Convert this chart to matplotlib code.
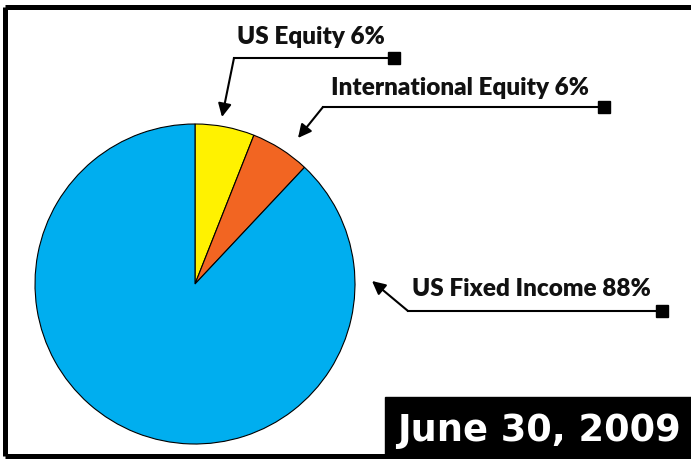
import matplotlib
matplotlib.use("Agg")
from matplotlib import pyplot as plt
from matplotlib.patches import Rectangle

# allocation data
labels = ["US Equity", "International Equity", "US Fixed Income"]
shares = [6, 6, 88]
colors = ["#FFF200", "#F26522", "#00AEEF"]
date_text = "June 30, 2009"

H = 460  # figure height in px, used to flip y (positions read top-down)

fig = plt.figure(figsize=(6.91, 4.60), dpi=100)
ax = fig.add_axes([0, 0, 1, 1])

ax.pie(shares, colors=colors, startangle=90, counterclock=False,
       center=(195, H - 285), radius=160,
       wedgeprops=dict(edgecolor="black", linewidth=0.8))

ax.set_xlim(0, 691)
ax.set_ylim(0, H)
ax.set_aspect("equal")
ax.axis("off")

# callouts: text position, square end, elbow, arrow tip (pixel coords, y down)
callouts = [
    ((311, 37), (394, 59), (234, 59), (222, 118)),
    ((460, 88), (604, 108), (323, 108), (298, 139)),
    ((531, 289), (662, 312), (408, 312), (372, 282)),
]
for (lab, val), (txt, sq, elbow, tip) in zip(zip(labels, shares), callouts):
    ax.text(txt[0], H - txt[1], f"{lab} {val}%", fontsize=17.5, fontweight="heavy",
            family="Lato", ha="center", va="center", color="#111111")
    ax.plot([sq[0], elbow[0]], [H - sq[1], H - elbow[1]], color="black", lw=1.5)
    ax.plot(sq[0], H - sq[1], marker="s", ms=8.5, color="black")
    ax.annotate("", xy=(tip[0], H - tip[1]), xytext=(elbow[0], H - elbow[1]),
                arrowprops=dict(arrowstyle="-|>,head_length=0.8,head_width=0.4",
                                color="black", lw=1.5, shrinkA=0, shrinkB=0))

# date box
ax.add_patch(Rectangle((385, 0), 320, H - 398, color="black", zorder=3))
ax.text(539, H - 431, date_text, fontsize=26.5, fontweight="bold", family="DejaVu Sans",
        color="white", ha="center", va="center", zorder=4)

# frame (top, left, bottom)
ax.plot([5.5, 700], [H - 7.5, H - 7.5], color="black", lw=3.6, solid_capstyle="butt")
ax.plot([5.5, 5.5], [H - 7.5, H - 457], color="black", lw=3.6, solid_capstyle="butt")
ax.plot([5.5, 700], [H - 457, H - 457], color="black", lw=3.6, solid_capstyle="butt")

fig.savefig("out.png", dpi=100)
